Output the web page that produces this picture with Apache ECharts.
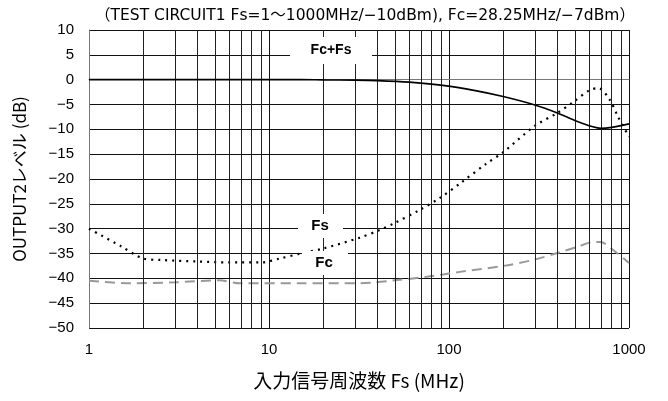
<!DOCTYPE html>
<html><head><meta charset="utf-8">
<script src="https://cdn.jsdelivr.net/npm/echarts@6/dist/echarts.min.js"></script>
<style>html,body{margin:0;padding:0;background:#fff}#c{width:668px;height:401px}</style>
</head><body><div id="c"></div>
<script>
const fcfsFreq = [1,2,5,10,15,20,30,40,60,90,140,200,300,400,500,630,700,800,1000];
const fcfsVal  = [0,0,0,0,0,-0.05,-0.1,-0.2,-0.5,-1.1,-2.2,-3.4,-5.1,-6.7,-8.2,-9.5,-9.8,-9.6,-8.9];
const fsFreq = [1,1.5,2,2.5,4,6,9,11.5,15,20,32,41,49,69,89,118,160,200,300,400,490,605,675,780,870,1000];
const fsVal  = [-30,-33.5,-36,-36.3,-36.6,-36.8,-36.8,-36,-35,-34,-31.8,-30.3,-29,-26.2,-23.8,-20.6,-17,-14.6,-9.3,-6.7,-4.5,-2.1,-1.7,-4,-7.5,-11.5];
const fcFreq = [1,1.7,3,5.3,6.9,15,32,53,75,115,200,293,400,514,631,690,857,1000];
const fcVal  = [-40.5,-41,-40.8,-40.4,-41,-41,-41,-40.3,-39.7,-38.7,-37.5,-36.3,-34.9,-33.7,-32.7,-32.7,-34.9,-36.9];
const minorX = [2,3,4,5,6,7,8,9,20,30,40,50,60,70,80,90,200,300,400,500,600,700,800,900];
const xTicks = [1,10,100,1000];
const yTicks = [10,5,0,-5,-10,-15,-20,-25,-30,-35,-40,-45,-50];
const titleText = '（TEST CIRCUIT1 Fs=1～1000MHz/−10dBm), Fc=28.25MHz/−7dBm）';

const zip = (a,b)=>a.map((x,i)=>[x,b[i]]);
const chart = echarts.init(document.getElementById('c'));
const latin = 'Liberation Sans, Arial, sans-serif';
chart.setOption({
  animation:false,
  title:{text:titleText,left:360,top:3,textAlign:'center',textStyle:{fontFamily:'DejaVu Sans, Noto Sans CJK JP, sans-serif',fontSize:15.5,fontWeight:'normal',color:'#000'}},
  grid:{left:89,right:39,top:30,bottom:73},
  xAxis:{type:'log',logBase:10,min:1,max:1000,
    axisLine:{show:true,lineStyle:{color:'#777',width:1}},
    axisTick:{show:false},
    axisLabel:{fontFamily:latin,fontSize:15,color:'#000',margin:14,
      formatter:v=>xTicks.includes(Math.round(v))?String(Math.round(v)):''},
    splitLine:{show:true,lineStyle:{color:'#111',width:1}},
    name:'入力信号周波数 Fs (MHz)',nameLocation:'middle',nameGap:43,
    nameTextStyle:{fontFamily:'Noto Sans CJK JP',fontSize:19,color:'#000'}},
  yAxis:{type:'value',min:-50,max:10,interval:5,
    axisLine:{show:true,lineStyle:{color:'#777',width:1}},
    axisTick:{show:false},
    axisLabel:{fontFamily:latin,fontSize:15,color:'#000',margin:15,
      formatter:v=>String(v).replace('-','−')},
    splitLine:{show:true,lineStyle:{color:'#111',width:1}},
    name:'OUTPUT2レベル (dB)',nameLocation:'middle',nameGap:61,nameRotate:90,
    nameTextStyle:{fontFamily:'Noto Sans CJK JP',fontSize:17,color:'#000'}},
  series:[
    {type:'line',data:zip(fcFreq,fcVal),showSymbol:false,smooth:0.3,z:3,
     lineStyle:{color:'#999',width:2,type:[10,6]},
     markLine:{silent:true,symbol:'none',label:{show:false},animation:false,
       lineStyle:{color:'#222',width:1,type:'solid'},
       data:minorX.map(v=>({xAxis:v}))}},
    {type:'line',data:zip(fsFreq,fsVal),showSymbol:false,smooth:0.3,z:4,
     lineStyle:{color:'#000',width:2.2,type:[2,5]}},
    {type:'line',data:zip(fcfsFreq,fcfsVal),showSymbol:false,smooth:0.3,z:5,
     lineStyle:{color:'#000',width:1.6}}
  ],
  graphic:[
    {type:'rect',shape:{x:290,y:37,width:82,height:27},style:{fill:'#fff'},z:100},
    {type:'text',x:331,y:50,z:101,style:{text:'Fc+Fs',fontFamily:latin,fontWeight:'bold',fontSize:14,fill:'#000',align:'center',verticalAlign:'middle'}},
    {type:'rect',shape:{x:298,y:214,width:45,height:24},style:{fill:'#fff'},z:100},
    {type:'text',x:320,y:226,z:101,style:{text:'Fs',fontFamily:latin,fontWeight:'bold',fontSize:15,fill:'#000',align:'center',verticalAlign:'middle'}},
    {type:'rect',shape:{x:302,y:251,width:46,height:24},style:{fill:'#fff'},z:100},
    {type:'text',x:324,y:263,z:101,style:{text:'Fc',fontFamily:latin,fontWeight:'bold',fontSize:15,fill:'#000',align:'center',verticalAlign:'middle'}}
  ]
});
</script></body></html>
